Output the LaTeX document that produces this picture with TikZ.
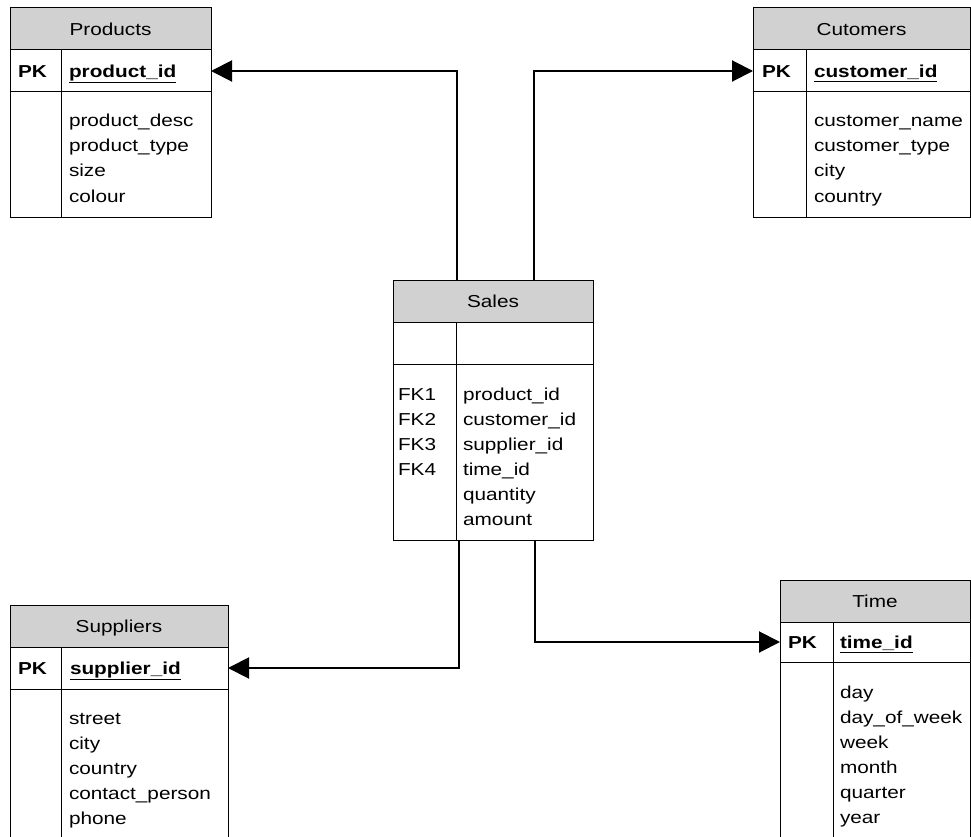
\documentclass[tikz,border=0pt]{standalone}
\usepackage{fontspec}
\setmainfont{Liberation Sans}[FakeStretch=1.2]
\usetikzlibrary{arrows.meta,calc}
\definecolor{hdrgray}{RGB}{209,209,209}
\newcommand\keyname[1]{\underline{#1}}
\tikzset{
  tbox/.style={draw=black, line width=1pt, inner sep=0pt, outer sep=0pt, anchor=north west},
  thead/.style={tbox, fill=hdrgray, text height=12.4pt, text depth=0pt,
    font=\fontsize{17.3}{25}\selectfont},
  fieldtxt/.style={anchor=base west, inner sep=0pt, outer sep=0pt,
    font=\fontsize{17.3}{25}\selectfont},
  keytxt/.style={fieldtxt, font=\fontsize{17.3}{25}\selectfont\bfseries},
  divider/.style={line width=1pt},
  link/.style={line width=2pt, -{Triangle[length=21pt,width=21pt]}},
}
\begin{document}
\begin{tikzpicture}[x=1pt,y=-1pt]
\useasboundingbox (0,0) rectangle (971,837);
\clip (0,0) rectangle (971,837);

% ---------- Products ----------
\node[thead, minimum width=201pt, minimum height=42pt] (prodH) at (10,8) {Products};
\node[tbox, minimum width=201pt, minimum height=42pt] (prodPK) at (10,50) {};
\node[tbox, minimum width=201pt, minimum height=125pt] (prodB) at (10,92) {};
\draw[divider] ([xshift=51pt]prodPK.north west) -- ([xshift=51pt]prodB.south west);
\node[keytxt] (prodPKl) at (18,77.5) {PK};
\node[keytxt] (prodPKf) at (69,77.5) {\keyname{product\_id}};
\foreach \t [count=\i from 0] in {product\_desc,product\_type,size,colour}
  \node[fieldtxt] (prodF\i) at (69,127+25*\i) {\t};

% ---------- Customers ----------
\node[thead, minimum width=217pt, minimum height=42pt] (custH) at (753,8) {Cutomers};
\node[tbox, minimum width=217pt, minimum height=42pt] (custPK) at (753,50) {};
\node[tbox, minimum width=217pt, minimum height=125pt] (custB) at (753,92) {};
\draw[divider] ([xshift=53pt]custPK.north west) -- ([xshift=53pt]custB.south west);
\node[keytxt] (custPKl) at (762,77.5) {PK};
\node[keytxt] (custPKf) at (814,77.5) {\keyname{customer\_id}};
\foreach \t [count=\i from 0] in {customer\_name,customer\_type,city,country}
  \node[fieldtxt] (custF\i) at (814,127+25*\i) {\t};

% ---------- Sales ----------
\node[thead, minimum width=200pt, minimum height=42pt] (salesH) at (393,280) {Sales};
\node[tbox, minimum width=200pt, minimum height=42pt] (salesK) at (393,322) {};
\node[tbox, minimum width=200pt, minimum height=176pt] (salesB) at (393,364) {};
\draw[divider] ([xshift=63pt]salesK.north west) -- ([xshift=63pt]salesB.south west);
\foreach \t [count=\i from 0] in {FK1,FK2,FK3,FK4}
  \node[fieldtxt] (salesK\i) at (398,400+25*\i) {\t};
\foreach \t [count=\i from 0] in {product\_id,customer\_id,supplier\_id,time\_id,quantity,amount}
  \node[fieldtxt] (salesF\i) at (463,400+25*\i) {\t};

% ---------- Suppliers ----------
\node[thead, minimum width=218pt, minimum height=42pt] (suppH) at (10,605) {Suppliers};
\node[tbox, minimum width=218pt, minimum height=42pt] (suppPK) at (10,647) {};
\node[tbox, minimum width=218pt, minimum height=200pt] (suppB) at (10,689) {};
\draw[divider] ([xshift=51pt]suppPK.north west) -- ([xshift=51pt]suppB.south west);
\node[keytxt] (suppPKl) at (18,674.5) {PK};
\node[keytxt] (suppPKf) at (70,674.5) {\keyname{supplier\_id}};
\foreach \t [count=\i from 0] in {street,city,country,contact\_person,phone}
  \node[fieldtxt] (suppF\i) at (69,724+25*\i) {\t};

% ---------- Time ----------
\node[thead, minimum width=190pt, minimum height=42pt] (timeH) at (780,580) {Time};
\node[tbox, minimum width=190pt, minimum height=40pt] (timePK) at (780,622) {};
\node[tbox, minimum width=190pt, minimum height=200pt] (timeB) at (780,662) {};
\draw[divider] ([xshift=53pt]timePK.north west) -- ([xshift=53pt]timeB.south west);
\node[keytxt] (timePKl) at (788,648.5) {PK};
\node[keytxt] (timePKf) at (840,648.5) {\keyname{time\_id}};
\foreach \t [count=\i from 0] in {day,day\_of\_week,week,month,quarter,year}
  \node[fieldtxt] (timeF\i) at (840,698+25*\i) {\t};

% ---------- Relationships ----------
\draw[link] ([xshift=64pt]salesH.north west) |- (prodPK.east);
\draw[link] ([xshift=141pt]salesH.north west) |- (custPK.west);
\draw[link] ([xshift=66pt]salesB.south west) |- (suppPK.east);
\draw[link] ([xshift=142pt]salesB.south west) |- (timePK.west);
\end{tikzpicture}
\end{document}
